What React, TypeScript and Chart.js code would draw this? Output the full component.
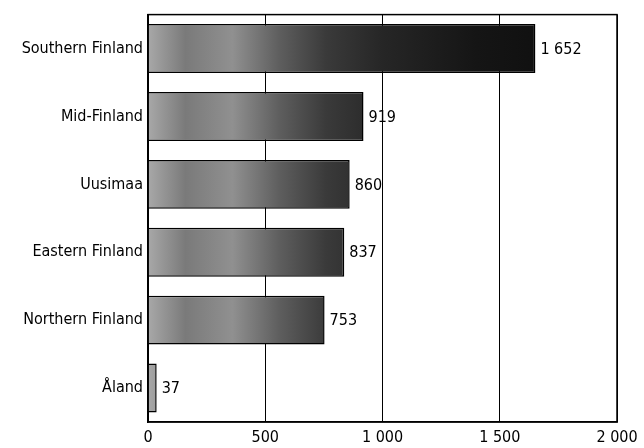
import React, { useEffect, useRef } from "react";
import { Chart, registerables } from "chart.js";

Chart.register(...registerables);

const categories = ["Southern Finland", "Mid-Finland", "Uusimaa", "Eastern Finland", "Northern Finland", "Åland"];
const values = [1652, 919, 860, 837, 753, 37];
const tickValues = [0, 500, 1000, 1500, 2000];

const FONT = "'Liberation Sans Narrow', 'DejaVu Sans Condensed', 'Roboto Condensed', sans-serif";

const fmt = (v: number) => {
  const s = String(Math.round(v));
  return s.replace(/\B(?=(\d{3})+(?!\d))/g, " ");
};

const labelPlugin = {
  id: "valueLabels",
  afterDatasetsDraw(chart: any) {
    const ctx = chart.ctx;
    const meta = chart.getDatasetMeta(0);
    ctx.save();
    ctx.font = `16px ${FONT}`;
    ctx.fillStyle = "#000";
    ctx.textAlign = "left";
    ctx.textBaseline = "middle";
    meta.data.forEach((bar: any, i: number) => {
      ctx.fillText(fmt(values[i]), bar.x + 5, bar.y + 1);
    });
    ctx.restore();
  },
};

const framePlugin = {
  id: "frame",
  afterDraw(chart: any) {
    const { ctx, chartArea } = chart;
    ctx.save();
    ctx.strokeStyle = "#000";
    ctx.lineWidth = 1.5;
    ctx.strokeRect(chartArea.left, chartArea.top, chartArea.right - chartArea.left, chartArea.bottom - chartArea.top);
    ctx.restore();
  },
};

export default function App() {
  const ref = useRef<HTMLCanvasElement | null>(null);
  useEffect(() => {
    document.body.style.margin = "0";
    const canvas = ref.current!;
    const chart = new Chart(canvas, {
      type: "bar",
      data: {
        labels: categories,
        datasets: [
          {
            data: values,
            backgroundColor: (c: any) => {
              const ch = c.chart;
              const area = ch.chartArea;
              if (!area) return "#888";
              const g = ch.ctx.createLinearGradient(area.left, 0, area.right, 0);
              g.addColorStop(0, "#a8a8a8");
              g.addColorStop(0.08, "#7a7a7a");
              g.addColorStop(0.18, "#909090");
              g.addColorStop(0.28, "#5e5e5e");
              g.addColorStop(0.38, "#3a3a3a");
              g.addColorStop(0.5, "#262626");
              g.addColorStop(0.7, "#151515");
              g.addColorStop(1, "#0a0a0a");
              return g;
            },
            borderColor: "#000",
            borderWidth: 1.5,
            barPercentage: 0.72,
            categoryPercentage: 1,
          },
        ],
      },
      options: {
        indexAxis: "y",
        animation: false,
        responsive: false,
        maintainAspectRatio: false,
        layout: { padding: { top: 10, right: 27, left: 0, bottom: 0 } },
        plugins: { legend: { display: false }, tooltip: { enabled: false } },
        scales: {
          x: {
            min: 0,
            max: 2000,
            afterBuildTicks: (s: any) => {
              s.ticks = tickValues.map((v) => ({ value: v }));
            },
            afterFit: (s: any) => {
              s.height = 26;
            },
            grid: { color: "#000", lineWidth: 1, drawTicks: false },
            border: { display: true, color: "#000", width: 1.5 },
            ticks: {
              color: "#000",
              padding: 6,
              font: { family: FONT, size: 16 },
              callback: (v: any) => fmt(Number(v)),
            },
          },
          y: {
            afterFit: (s: any) => {
              s.width = 148;
            },
            grid: { display: false, drawTicks: false },
            border: { display: true, color: "#000", width: 1.5 },
            ticks: {
              color: "#000",
              padding: 5,
              font: { family: FONT, size: 16 },
            },
          },
        },
      },
      plugins: [labelPlugin, framePlugin],
    });
    return () => chart.destroy();
  }, []);
  return (
    <div style={{ width: 644, height: 448, background: "#fff" }}>
      <canvas ref={ref} width={644} height={448} style={{ display: "block" }} />
    </div>
  );
}
